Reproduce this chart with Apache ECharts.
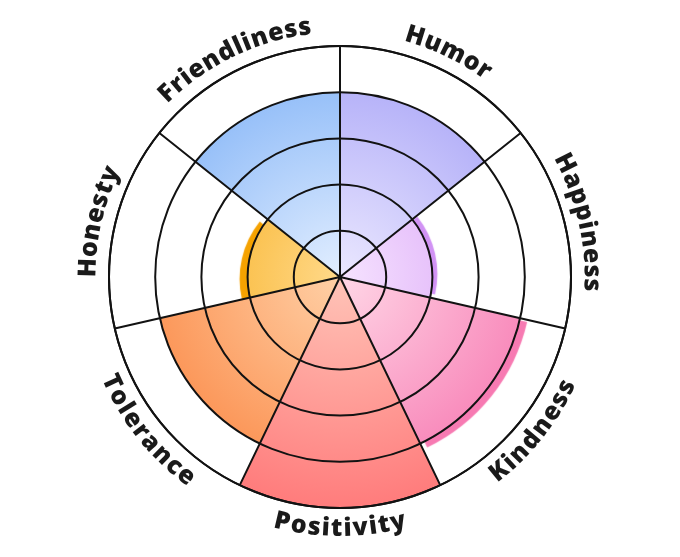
<!DOCTYPE html>
<html>
<head>
<meta charset="utf-8">
<script src="https://cdn.jsdelivr.net/npm/echarts@6/dist/echarts.min.js"></script>
<style>
  html, body { margin: 0; padding: 0; background: #fff; }
  #wheel { width: 680px; height: 557px; }
</style>
</head>
<body>
<div id="wheel"></div>
<script>
// categories clockwise from 12 o'clock
var categories = ['Humor', 'Happiness', 'Kindness', 'Positivity', 'Tolerance', 'Honesty', 'Friendliness']
var scores = [4, 2, 4, 5, 4, 2, 4]
var ringMax = 5
var labelRadius = 5.45

var outerColors = ['#aaa6f7', '#d192f4', '#f77ab2', '#ff7c7c', '#fb8a48', '#f5a200', '#85b5f7']
var innerColors = ['#ebe8ff', '#f6e3ff', '#ffd6e6', '#ffc4b8', '#ffd0a6', '#ffd98a', '#e2eeff']
// little offset "shadow" under a few sectors
var shadows = {
  Happiness: [5, -3],
  Kindness: [7, 4],
  Honesty: [-8, 2]
}

var cx = 340
var cy = 277
var R = 231
var labelFont = { family: 'Open Sans', weight: 800, size: 25, spacing: 1.1 }

var chart = echarts.init(document.getElementById('wheel'))

var barData = scores.map(function (v, i) {
  var style = {
    color: {
      type: 'radial',
      x: cx,
      y: cy,
      r: R,
      global: true,
      colorStops: [
        { offset: 0, color: innerColors[i] },
        { offset: 1, color: outerColors[i] }
      ]
    }
  }
  var sh = shadows[categories[i]]
  if (sh) {
    style.shadowColor = outerColors[i]
    style.shadowBlur = 1
    style.shadowOffsetX = sh[0]
    style.shadowOffsetY = sh[1]
  }
  return { value: v, itemStyle: style }
})

// measure chars so the names can be bent along the circle
var measureCtx = document.createElement('canvas').getContext('2d')
measureCtx.font = labelFont.weight + ' ' + labelFont.size + 'px "' + labelFont.family + '"'

function renderLabel(params, api) {
  var name = categories[params.dataIndex]
  var c = api.coord([0, api.value(1)])
  var p = api.coord([api.value(0), api.value(1)])
  var dx = p[0] - c[0]
  var dy = p[1] - c[1]
  var r = Math.sqrt(dx * dx + dy * dy)
  var a = Math.atan2(dx, -dy) // clockwise from top
  var lower = Math.cos(a) < 0

  var widths = name.split('').map(function (ch) {
    return measureCtx.measureText(ch).width + labelFont.spacing
  })
  var total = widths.reduce(function (s, w) { return s + w }, 0) - labelFont.spacing
  var span = total / r
  var cum = 0
  var children = name.split('').map(function (ch, k) {
    var off = (cum + (widths[k] - labelFont.spacing) / 2) / r
    cum += widths[k]
    var t = lower ? a + span / 2 - off : a - span / 2 + off
    return {
      type: 'text',
      x: c[0] + r * Math.sin(t),
      y: c[1] - r * Math.cos(t),
      rotation: lower ? Math.PI - t : -t,
      style: {
        text: ch,
        fontFamily: labelFont.family,
        fontWeight: labelFont.weight,
        fontSize: labelFont.size,
        fill: '#1a1a1a',
        align: 'center',
        verticalAlign: 'middle'
      }
    }
  })
  return { type: 'group', children: children }
}

var option = {
  polar: {
    center: [cx, cy],
    radius: R
  },
  angleAxis: {
    type: 'category',
    data: categories,
    startAngle: 90,
    clockwise: true,
    z: 10,
    axisLine: { show: true, lineStyle: { color: '#121212', width: 2 } },
    axisTick: { show: false },
    axisLabel: { show: false },
    splitLine: { show: true, lineStyle: { color: '#121212', width: 2 } }
  },
  radiusAxis: {
    type: 'value',
    min: 0,
    max: ringMax,
    interval: 1,
    z: 10,
    axisLine: { show: false },
    axisTick: { show: false },
    axisLabel: { show: false },
    splitLine: { show: true, lineStyle: { color: '#121212', width: 2 } }
  },
  series: [
    {
      type: 'bar',
      coordinateSystem: 'polar',
      barCategoryGap: '0%',
      data: barData,
      silent: true
    },
    {
      type: 'custom',
      coordinateSystem: 'polar',
      silent: true,
      renderItem: renderLabel,
      data: categories.map(function (name, i) { return [labelRadius, i] })
    }
  ]
}
chart.setOption(option)
</script>
</body>
</html>
